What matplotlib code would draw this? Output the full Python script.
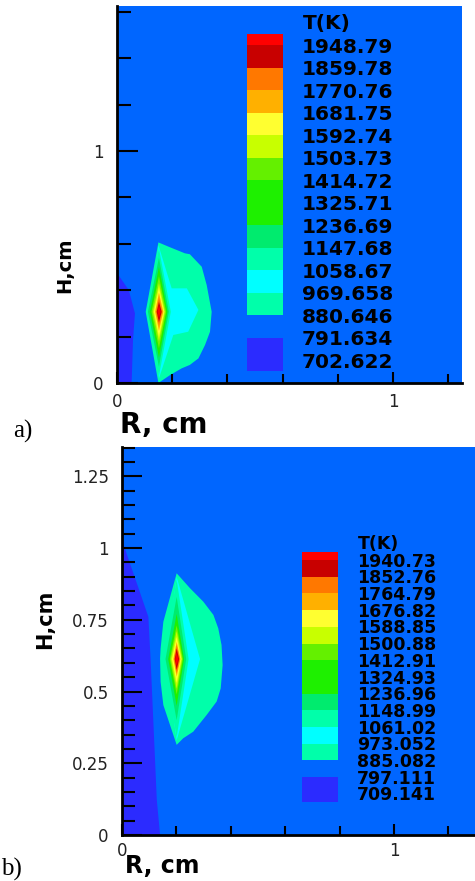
import matplotlib
matplotlib.use("Agg")
import matplotlib.pyplot as plt
from matplotlib.ticker import FixedLocator

W, H = 475, 881

BG_BLUE = "#0066ff"
DARK_BLUE = "#2b2bff"
AQUA = "#00ffaa"
CYAN = "#00ffff"

# legend (same palette for both panels)
legend_colors = ["#ff0000", "#c80000", "#ff7800", "#ffb000", "#ffff30", "#c8ff00",
                 "#64f000", "#1ef000", "#1ef000", "#00eb6e", AQUA, CYAN, AQUA, DARK_BLUE]
legend_lo = [-0.5, 0, 1, 2, 3, 4, 5, 6, 7, 8, 9, 10, 11, 13]
legend_hi = [0, 1, 2, 3, 4, 5, 6, 7, 8, 9, 10, 11, 12, 14.5]
labels_a = ["1948.79", "1859.78", "1770.76", "1681.75", "1592.74", "1503.73", "1414.72",
            "1325.71", "1236.69", "1147.68", "1058.67", "969.658", "880.646", "791.634",
            "702.622"]
labels_b = ["1940.73", "1852.76", "1764.79", "1676.82", "1588.85", "1500.88", "1412.91",
            "1324.93", "1236.96", "1148.99", "1061.02", "973.052", "885.082", "797.111",
            "709.141"]

# nested core layers, outer -> inner
core_colors = [AQUA, "#00eb6e", "#1ef000", "#78f000", "#c8ff00", "#ffff30",
               "#ffb000", "#ff7800", "#c80000", "#ff0000"]

# panel a) geometry (R, H in cm)
a_center = (0.152, 0.307)
a_top = [0.58, 0.54, 0.50, 0.46, 0.43, 0.41, 0.39, 0.37, 0.35, 0.335]
a_bot = [0.03, 0.07, 0.11, 0.15, 0.18, 0.20, 0.225, 0.245, 0.262, 0.28]
a_left = [0.106, 0.112, 0.119, 0.125, 0.130, 0.134, 0.138, 0.141, 0.144, 0.147]
a_right = [0.195, 0.188, 0.183, 0.178, 0.174, 0.171, 0.168, 0.165, 0.162, 0.158]
a_band_r = [0.0, 0.053, 0.058, 0.065, 0.043, 0.0]
a_band_h = [0.0, 0.0, 0.185, 0.30, 0.40, 0.474]
a_outer_r = [0.150, 0.186, 0.246, 0.264, 0.307, 0.325, 0.343, 0.337, 0.319, 0.295,
             0.264, 0.234, 0.192, 0.150, 0.104]
a_outer_h = [0.606, 0.588, 0.559, 0.555, 0.501, 0.422, 0.307, 0.221, 0.164, 0.106,
             0.078, 0.063, 0.034, 0.0, 0.307]
a_cyan_r = [0.150, 0.198, 0.253, 0.295, 0.258, 0.204, 0.152, 0.13]
a_cyan_h = [0.595, 0.408, 0.408, 0.315, 0.221, 0.207, 0.02, 0.307]

# panel b) geometry
b_center = (0.201, 0.613)
b_top = [0.89, 0.83, 0.77, 0.73, 0.71, 0.69, 0.673, 0.662, 0.65, 0.635]
b_bot = [0.34, 0.40, 0.45, 0.49, 0.51, 0.53, 0.552, 0.563, 0.575, 0.59]
b_left = [0.150, 0.160, 0.170, 0.176, 0.180, 0.184, 0.189, 0.191, 0.194, 0.196]
b_right = [0.245, 0.236, 0.228, 0.224, 0.221, 0.218, 0.215, 0.213, 0.210, 0.207]
b_band_r = [0.0, 0.14, 0.128, 0.105, 0.097, 0.01, 0.0]
b_band_h = [0.0, 0.0, 0.122, 0.615, 0.76, 1.0, 1.03]
b_outer_r = [0.201, 0.250, 0.299, 0.336, 0.354, 0.366, 0.370, 0.363, 0.348, 0.311,
             0.262, 0.225, 0.201, 0.152, 0.142, 0.140, 0.142, 0.152]
b_outer_h = [0.912, 0.860, 0.813, 0.767, 0.720, 0.662, 0.592, 0.511, 0.465, 0.418,
             0.360, 0.337, 0.314, 0.453, 0.534, 0.615, 0.650, 0.743]
b_cyan_r = [0.201, 0.287, 0.201, 0.16]
b_cyan_h = [0.90, 0.613, 0.33, 0.613]


def px_rect(x, y, w, h):
    return [x / W, 1 - (y + h) / H, w / W, h / H]


def draw_field(ax, band, outer, cyan, center, top, bot, left, right):
    kw = dict(edgecolor="none", linewidth=0)
    ax.fill(band[0], band[1], color=DARK_BLUE, **kw)
    ax.fill(outer[0], outer[1], color=AQUA, **kw)
    ax.fill(cyan[0], cyan[1], color=CYAN, **kw)
    cx, cy = center
    for c, t, b, l, r in zip(core_colors, top, bot, left, right):
        ax.fill([cx, r, cx, l], [t, cy, b, cy], color=c, **kw)


def style_axes(ax, xlim, ylim, yticks, yticklabels, yminor, xpad, ylen):
    ax.set_facecolor(BG_BLUE)
    ax.set_xlim(*xlim)
    ax.set_ylim(*ylim)
    for s in ("top", "right"):
        ax.spines[s].set_visible(False)
    for s in ("left", "bottom"):
        ax.spines[s].set_linewidth(2.0)
    ax.set_xticks([0, 1])
    ax.set_xticklabels(["0", "1"])
    ax.xaxis.set_minor_locator(FixedLocator([0.2, 0.4, 0.6, 0.8, 1.2]))
    ax.set_yticks(yticks)
    ax.set_yticklabels(yticklabels)
    ax.yaxis.set_minor_locator(FixedLocator(yminor))
    ax.tick_params(which="both", direction="in", width=1.5, colors="black",
                   labelcolor="#222222", labelsize=12)
    ax.tick_params(axis="x", which="major", length=8, pad=xpad)
    ax.tick_params(axis="x", which="minor", length=6.5)
    ax.tick_params(axis="y", which="major", length=ylen[0], pad=9.5)
    ax.tick_params(axis="y", which="minor", length=ylen[1])


def draw_legend(fig, x0, slot0, slot_h, labels, fs, dy):
    wpx = 185
    top_px = slot0 - 2 * slot_h
    hpx = 16.5 * slot_h
    lg = fig.add_axes(px_rect(x0, top_px, wpx, hpx))
    lg.set_xlim(0, wpx)
    lg.set_ylim(14.5, -2)
    heights = [h - l for l, h in zip(legend_lo, legend_hi)]
    lg.bar(18, heights, bottom=legend_lo, width=36, color=legend_colors,
           edgecolor="none", linewidth=0)
    for i, lab in enumerate(labels):
        lg.text(55, i + dy, lab, ha="left", va="center", fontsize=fs,
                fontweight="bold", family="DejaVu Sans", color="black")
    lg.text(56, -0.97, "T(K)", ha="left", va="center", fontsize=fs,
            fontweight="bold", family="DejaVu Sans", color="black")
    lg.axis("off")
    lg.patch.set_alpha(0)


fig = plt.figure(figsize=(W / 100, H / 100), dpi=100)
fig.patch.set_facecolor("white")

# ---- panel a)
ax1 = fig.add_axes(px_rect(117, 6, 345, 377))
style_axes(ax1, (0, 1.25), (0, 1.625), [0, 1], ["0", "1"],
           [0.2, 0.4, 0.6, 0.8, 1.2, 1.4, 1.6], xpad=7, ylen=(15, 10))
draw_field(ax1, (a_band_r, a_band_h), (a_outer_r, a_outer_h), (a_cyan_r, a_cyan_h),
           a_center, a_top, a_bot, a_left, a_right)
ax1.set_xlabel("R, cm", fontsize=20, fontweight="bold", family="DejaVu Sans")
ax1.xaxis.set_label_coords(0.009, -0.111)
ax1.xaxis.label.set_horizontalalignment("left")
ax1.xaxis.label.set_verticalalignment("center")
ax1.set_ylabel("H,cm", fontsize=14, fontweight="bold", family="DejaVu Sans")
ax1.yaxis.set_label_coords(-0.151, 0.313)
ax1.yaxis.label.set_verticalalignment("center")
draw_legend(fig, 247, 45, 22.5, labels_a, 14.5, 0.09)
fig.text(13 / W, 1 - 431 / H, "a)", fontsize=18, family="Liberation Serif",
         ha="left", va="center")

# ---- panel b)
ax2 = fig.add_axes(px_rect(122, 447, 353, 388))
b_minor = [round(0.05 * k, 2) for k in range(1, 28) if k % 5 != 0]
style_axes(ax2, (0, 1.298), (0, 1.352), [0, 0.25, 0.5, 0.75, 1, 1.25],
           ["0", "0.25", "0.5", "0.75", "1", "1.25"], b_minor, xpad=5, ylen=(14.5, 9.5))
draw_field(ax2, (b_band_r, b_band_h), (b_outer_r, b_outer_h), (b_cyan_r, b_cyan_h),
           b_center, b_top, b_bot, b_left, b_right)
ax2.set_xlabel("R, cm", fontsize=17, fontweight="bold", family="DejaVu Sans")
ax2.xaxis.set_label_coords(0.0085, -0.080)
ax2.xaxis.label.set_horizontalalignment("left")
ax2.xaxis.label.set_verticalalignment("center")
ax2.set_ylabel("H,cm", fontsize=15, fontweight="bold", family="DejaVu Sans")
ax2.yaxis.set_label_coords(-0.218, 0.557)
ax2.yaxis.label.set_verticalalignment("center")
draw_legend(fig, 302, 560, 16.7, labels_b, 12.5, 0.1)
fig.text(1 / W, 1 - 869 / H, "b)", fontsize=18, family="Liberation Serif",
         ha="left", va="center")

fig.savefig("out.png", dpi=100)
